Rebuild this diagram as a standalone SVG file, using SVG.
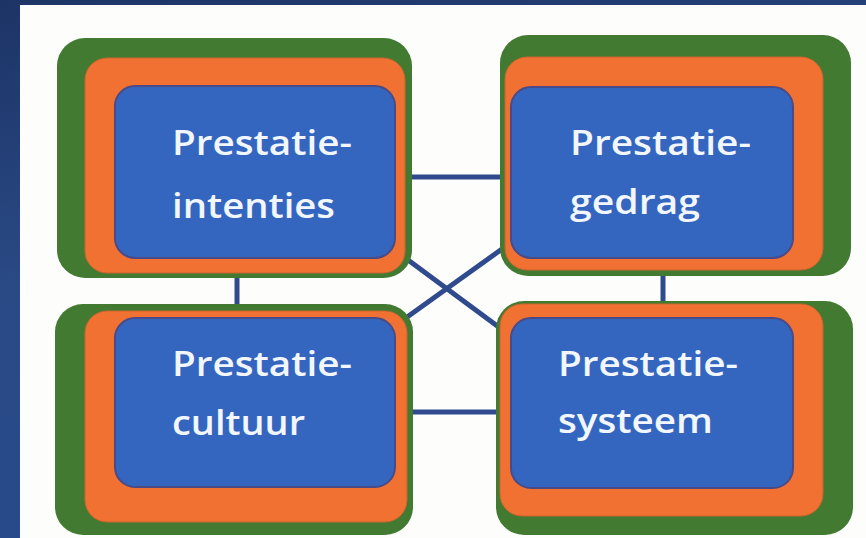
<svg xmlns="http://www.w3.org/2000/svg" width="866" height="538" viewBox="0 0 866 538">
  <defs>
    <linearGradient id="bg" x1="0" y1="0" x2="0.3" y2="1">
      <stop offset="0" stop-color="#1d3466"/>
      <stop offset="0.5" stop-color="#2a4a86"/>
      <stop offset="1" stop-color="#284a8a"/>
    </linearGradient>
    <style>
      .green { fill: #427a31; }
      .orange { fill: #f07132; stroke: #c9652e; stroke-width: 1; }
      .blue { fill: #3566bf; stroke: #4a4a86; stroke-width: 2; }
      .lbl { font-family: "Open Sans", "Lato", "Liberation Sans", sans-serif; font-weight: 600; font-size: 35px; fill: #f2f6ff; }
      .conn { stroke: #2f4b8e; stroke-width: 5; fill: none; }
    </style>
  </defs>
  <rect x="0" y="0" width="866" height="538" fill="url(#bg)"/>
  <rect x="20" y="5" width="846" height="533" fill="#fdfefc"/>

  <g id="connectors">
    <line class="conn" x1="410" y1="177" x2="502" y2="177"/>
    <line class="conn" x1="410" y1="412" x2="498" y2="412"/>
    <line class="conn" x1="237" y1="276" x2="237" y2="306"/>
    <line class="conn" x1="663" y1="274" x2="663" y2="303"/>
    <line class="conn" x1="404" y1="257" x2="500" y2="328"/>
    <line class="conn" x1="502" y1="249" x2="403" y2="320"/>
  </g>

  <g id="node-intenties">
    <rect class="green" x="57" y="38" width="355" height="240" rx="28"/>
    <rect class="orange" x="85" y="58" width="320" height="215" rx="22"/>
    <rect class="blue" x="115" y="86" width="280" height="172" rx="20"/>
    <text class="lbl" x="172" y="155" textLength="180" lengthAdjust="spacingAndGlyphs">Prestatie-</text>
    <text class="lbl" x="172" y="218" textLength="163" lengthAdjust="spacingAndGlyphs">intenties</text>
  </g>

  <g id="node-gedrag">
    <rect class="green" x="500" y="35" width="351" height="241" rx="28"/>
    <rect class="orange" x="505" y="57" width="318" height="213" rx="22"/>
    <rect class="blue" x="511" y="87" width="282" height="171" rx="20"/>
    <text class="lbl" x="570" y="155" textLength="181" lengthAdjust="spacingAndGlyphs">Prestatie-</text>
    <text class="lbl" x="570" y="214" textLength="130" lengthAdjust="spacingAndGlyphs">gedrag</text>
  </g>

  <g id="node-cultuur">
    <rect class="green" x="55" y="304" width="358" height="231" rx="28"/>
    <rect class="orange" x="85" y="311" width="322" height="211" rx="22"/>
    <rect class="blue" x="115" y="318" width="280" height="169" rx="20"/>
    <text class="lbl" x="172" y="376" textLength="180" lengthAdjust="spacingAndGlyphs">Prestatie-</text>
    <text class="lbl" x="172" y="435" textLength="133" lengthAdjust="spacingAndGlyphs">cultuur</text>
  </g>

  <g id="node-systeem">
    <rect class="green" x="496" y="301" width="357" height="234" rx="28"/>
    <rect class="orange" x="500" y="304" width="323" height="212" rx="22"/>
    <rect class="blue" x="511" y="318" width="282" height="170" rx="20"/>
    <text class="lbl" x="558" y="376" textLength="180" lengthAdjust="spacingAndGlyphs">Prestatie-</text>
    <text class="lbl" x="558" y="433" textLength="155" lengthAdjust="spacingAndGlyphs">systeem</text>
  </g>
</svg>
